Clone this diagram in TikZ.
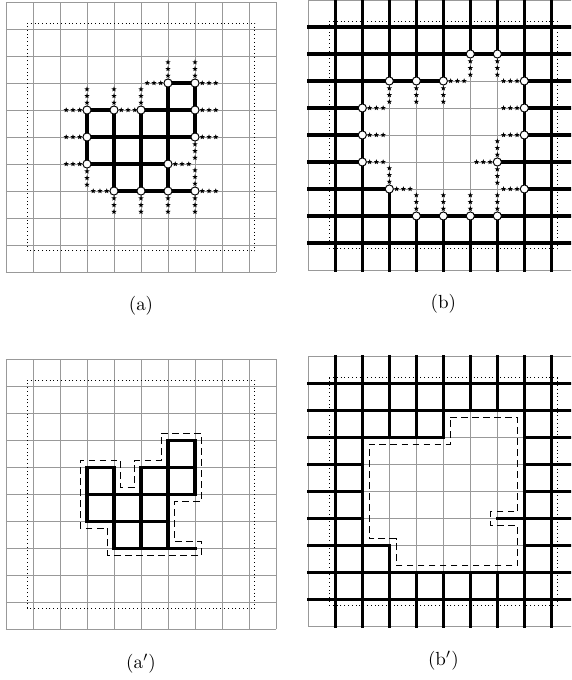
\documentclass[tikz,border=0pt]{standalone}
\usepackage{tikz}
\usetikzlibrary{shapes.geometric}
% aristas gruesas de S (verticales x/y1/y2, horizontales y/x1/x2)
\newcommand{\VertS}{3/4/6,4/3/6,5/3/6,6/3/7,7/5/7}
\newcommand{\HorzS}{7/6/7,6/3/4,6/5/7,5/3/7,4/3/6,3/4/7}
% aristas gruesas del complemento
\newcommand{\VertC}{1/0/10,2/0/10,3/0/3,3/7/10,4/0/2,4/7/10,5/0/2,5/7/10,
	6/0/2,6/8/10,7/0/2,7/8/10,8/0/10,9/0/10}
\newcommand{\HorzC}{1/0/10,2/0/10,3/0/3,3/8/10,4/0/2,4/7/10,5/0/2,5/8/10,
	6/0/2,6/8/10,7/0/5,7/8/10,8/0/10,9/0/10}

\begin{document}
\begin{tikzpicture}[x=0.5cm, y=0.5cm,
	rejilla/.style={draw=black!40, line width=0.5pt, step=0.5cm},
	marco/.style={line width=0.5pt, dash pattern=on 0.5pt off 1.5pt},
	arista/.style={line width=1.6pt, line cap=rect},
	contorno/.style={line width=0.5pt, dash pattern=on 3.6pt off 2.2pt},
	vertice/.style={circle, draw, fill=white, line width=0.5pt,
		inner sep=0pt, minimum size=4.3pt},
	estrella/.style={star, star points=5, star point ratio=2.4, fill=black,
		inner sep=0pt, minimum size=2.9pt},
	leyenda/.style={font=\normalsize}]
	\useasboundingbox (0,0) rectangle (21.148,25.185);
	\clip (0,0) rectangle (21.148,25.185);
	% (a) el conjunto S
	\begin{scope}[shift={(0.222,15.11)}]
		\draw[rejilla] (0,0) grid (10,10);
		\draw[marco] (0.78,0.78) rectangle (9.22,9.22);
		\foreach \x/\ya/\yb in \VertS {\draw[arista] (\x,\ya) -- (\x,\yb);}
		\foreach \y/\xa/\xb in \HorzS {\draw[arista] (\xa,\y) -- (\xb,\y);}
		\foreach \x/\y/\dx/\dy [count=\k] in {6/7/-1/0,6/7/0/1,7/7/0/1,7/7/1/0,
			3/6/-1/0,3/6/0/1,4/6/0/1,4/6/1/0,5/6/0/1,7/6/1/0,3/5/-1/0,7/5/1/0,
			7/5/0/-1,3/4/-1/0,3/4/0/-1,6/4/1/0,4/3/-1/0,4/3/0/-1,5/3/0/-1,
			6/3/0/-1,7/3/0/-1,7/3/1/0,7/3/0/1}
			\foreach \t [count=\m] in {0.27,0.52,0.77}
				{\node[estrella] (ea\k-\m) at ({\x+\t*\dx},{\y+\t*\dy}) {};}
		\foreach \x/\y in {6/7,7/7,3/6,4/6,5/6,7/6,3/5,7/5,3/4,6/4,4/3,5/3,6/3,7/3}
			{\node[vertice] (a\x\y) at (\x,\y) {};}
		\node[leyenda] (capa) at (5,-1.26) {(a)};
	\end{scope}
	% (b) el complemento de S
	\begin{scope}[shift={(11.42,15.185)}]
		\draw[rejilla] (0,0) grid (10,10);
		\draw[marco] (0.78,0.78) rectangle (9.22,9.22);
		\foreach \x/\ya/\yb in \VertC {\draw[arista] (\x,\ya) -- (\x,\yb);}
		\foreach \y/\xa/\xb in \HorzC {\draw[arista] (\xa,\y) -- (\xb,\y);}
		\foreach \x/\y/\dx/\dy [count=\k] in {6/8/0/-1,7/8/0/-1,3/7/0/-1,4/7/0/-1,
			5/7/0/-1,5/7/1/0,8/7/-1/0,2/6/1/0,8/6/-1/0,2/5/1/0,8/5/-1/0,2/4/1/0,
			7/4/-1/0,7/4/0/1,7/4/0/-1,3/3/0/1,3/3/1/0,8/3/-1/0,4/2/0/1,5/2/0/1,
			6/2/0/1,7/2/0/1}
			\foreach \t [count=\m] in {0.27,0.52,0.77}
				{\node[estrella] (eb\k-\m) at ({\x+\t*\dx},{\y+\t*\dy}) {};}
		\foreach \x/\y in {6/8,7/8,3/7,4/7,5/7,8/7,2/6,8/6,2/5,8/5,2/4,7/4,3/3,8/3,
			4/2,5/2,6/2,7/2}
			{\node[vertice] (b\x\y) at (\x,\y) {};}
		\node[leyenda] (capb) at (5,-1.26) {(b)};
	\end{scope}
	% (a') contorno de S
	\begin{scope}[shift={(0.222,1.878)}]
		\draw[rejilla] (0,0) grid (10,10);
		\draw[marco] (0.78,0.78) rectangle (9.22,9.22);
		\foreach \x/\ya/\yb in \VertS {\draw[arista] (\x,\ya) -- (\x,\yb);}
		\foreach \y/\xa/\xb in \HorzS {\draw[arista] (\xa,\y) -- (\xb,\y);}
		\draw[contorno] (5.75,7.25) -- (7.25,7.25) -- (7.25,4.75) -- (6.25,4.75)
			-- (6.25,3.25) -- (7.25,3.25) -- (7.25,2.75) -- (3.75,2.75) -- (3.75,3.75)
			-- (2.75,3.75) -- (2.75,6.25) -- (4.25,6.25) -- (4.25,5.25) -- (4.75,5.25)
			-- (4.75,6.25) -- (5.75,6.25) -- cycle;
		\node[leyenda] (capa') at (5,-1.26) {(a$'$)};
	\end{scope}
	% (b') contorno del complemento
	\begin{scope}[shift={(11.42,1.974)}]
		\draw[rejilla] (0,0) grid (10,10);
		\draw[marco] (0.78,0.78) rectangle (9.22,9.22);
		\foreach \x/\ya/\yb in \VertC {\draw[arista] (\x,\ya) -- (\x,\yb);}
		\foreach \y/\xa/\xb in \HorzC {\draw[arista] (\xa,\y) -- (\xb,\y);}
		\draw[contorno] (5.25,7.75) -- (7.75,7.75) -- (7.75,4.25) -- (6.75,4.25)
			-- (6.75,3.75) -- (7.75,3.75) -- (7.75,2.25) -- (3.25,2.25) -- (3.25,3.25)
			-- (2.25,3.25) -- (2.25,6.75) -- (5.25,6.75) -- cycle;
		\node[leyenda] (capb') at (5,-1.26) {(b$'$)};
	\end{scope}
\end{tikzpicture}
\end{document}
